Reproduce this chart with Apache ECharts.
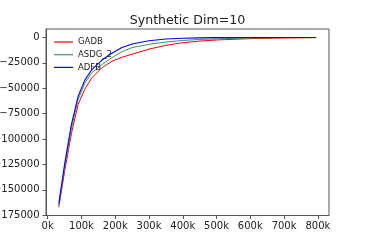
<!DOCTYPE html>
<html>
<head>
<meta charset="utf-8">
<script src="https://cdn.jsdelivr.net/npm/echarts@6/dist/echarts.min.js"></script>
<style>html,body{margin:0;padding:0;background:#fff}#c{width:366px;height:242px}</style>
</head>
<body>
<div id="c"></div>
<script>
const xValues = [33000, 50000, 70000, 90000, 110000, 130000, 160000, 190000, 220000, 250000, 300000, 350000, 400000, 450000, 500000, 600000, 700000, 795000];
const gadb = [-167000, -132000, -95000, -66000, -51000, -40000, -30000, -23500, -19500, -16500, -11500, -7800, -5200, -3600, -2500, -1200, -500, -200];
const asdg2 = [-165000, -128000, -90000, -61000, -45000, -35000, -27000, -20000, -14000, -10000, -6800, -4500, -3000, -2000, -1400, -600, -250, -100];
const adfb = [-163400, -125000, -86000, -58000, -42000, -32000, -22500, -15500, -10000, -6500, -3300, -1500, -800, -400, -200, -80, -30, -10];
const seriesNames = ['GADB', 'ASDG_2', 'ADFB'];
const xTicks = [0, 100000, 200000, 300000, 400000, 500000, 600000, 700000, 800000];
const yTicks = [-175000, -150000, -125000, -100000, -75000, -50000, -25000, 0];
const titleText = 'Synthetic Dim=10';

const pair = arr => xValues.map((x, i) => [x, arr[i]]);
const font = 'DejaVu Sans';
const txt = '#222';
const spine = '#555';
const chart = echarts.init(document.getElementById('c'), null, {renderer: 'canvas'});
chart.setOption({
  animation: false,
  backgroundColor: '#fff',
  title: {text: titleText, top: 14, left: 187.5, textAlign: 'center', padding: 0,
    textStyle: {fontFamily: font, fontSize: 12.6, fontWeight: 'normal', color: txt}},
  legend: {
    orient: 'vertical', left: 54, top: 37, itemWidth: 19, itemHeight: 1.2, itemGap: 2.7, padding: 0,
    icon: 'rect',
    data: seriesNames,
    textStyle: {fontFamily: font, fontSize: 8.5, color: txt, lineHeight: 10}
  },
  grid: {left: 46, right: 37, top: 29, bottom: 26.5, outerBoundsMode: 'none', containLabel: false,
    show: true, borderColor: spine, borderWidth: 1, backgroundColor: 'transparent'},
  xAxis: {
    type: 'value', min: -5000, max: 833000, splitLine: {show: false},
    axisLine: {onZero: false, lineStyle: {color: spine}},
    axisTick: {customValues: xTicks, length: 3.5, lineStyle: {color: spine}},
    axisLabel: {customValues: xTicks, formatter: v => (v / 1000) + 'k', fontFamily: font, fontSize: 10, color: txt, margin: 6}
  },
  yAxis: {
    type: 'value', min: -175300, max: 8300, splitLine: {show: false},
    axisLine: {show: true, onZero: false, lineStyle: {color: spine}},
    axisTick: {show: true, customValues: yTicks, length: 3.5, lineStyle: {color: spine}},
    axisLabel: {customValues: yTicks, formatter: v => v === 0 ? '0' : '\u2212' + Math.abs(v), fontFamily: font, fontSize: 10, color: txt, margin: 6.5}
  },
  series: [
    {name: seriesNames[0], type: 'line', data: pair(gadb), symbol: 'none', lineStyle: {color: '#ff0000', width: 1}, itemStyle: {color: '#ff0000'}},
    {name: seriesNames[1], type: 'line', data: pair(asdg2), symbol: 'none', lineStyle: {color: '#3d9460', width: 1}, itemStyle: {color: '#3d9460'}},
    {name: seriesNames[2], type: 'line', data: pair(adfb), symbol: 'none', lineStyle: {color: '#0000ff', width: 1.1}, itemStyle: {color: '#0000ff'}}
  ]
});
</script>
</body>
</html>
